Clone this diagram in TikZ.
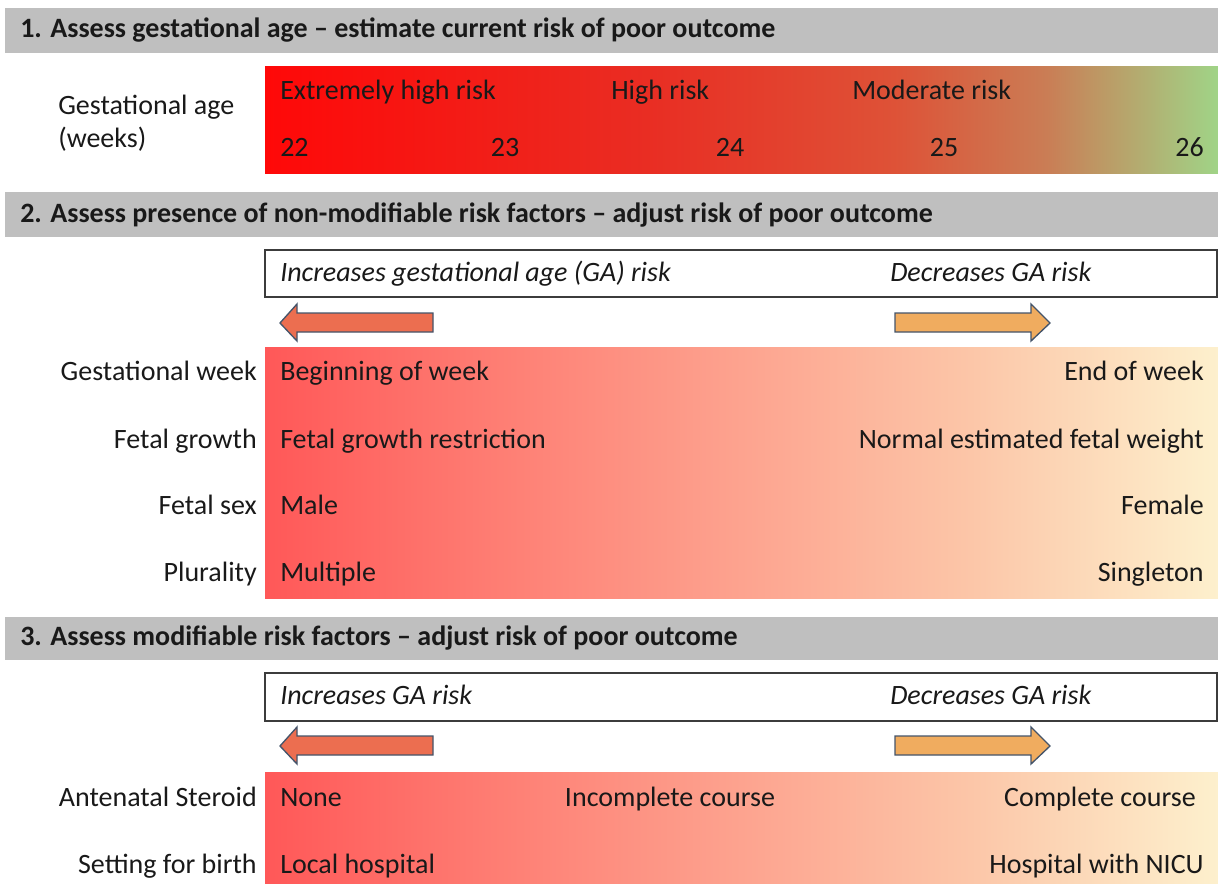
\documentclass[tikz,border=0pt]{standalone}
\usepackage{fontspec}
\setmainfont{Carlito}
\usetikzlibrary{positioning}

\definecolor{ink}{RGB}{25,25,25}
\definecolor{headgray}{RGB}{191,191,191}
\definecolor{boxline}{RGB}{60,60,60}
\definecolor{arrline}{RGB}{68,84,106}
\definecolor{arrred}{RGB}{236,110,80}
\definecolor{arrtan}{RGB}{240,172,95}
% colours of the age band
\definecolor{ageA}{RGB}{255,8,8}
\definecolor{ageB}{RGB}{233,45,35}
\definecolor{ageC}{RGB}{222,82,55}
\definecolor{ageD}{RGB}{202,125,85}
\definecolor{ageE}{RGB}{160,212,135}
% colours of the risk factor bands
\definecolor{facA}{RGB}{255,88,88}
\definecolor{facB}{RGB}{254,125,115}
\definecolor{facC}{RGB}{253,163,143}
\definecolor{facD}{RGB}{252,198,168}
\definecolor{facE}{RGB}{253,240,205}

\pgfdeclarehorizontalshading{agerisk}{100bp}{color(0bp)=(ageA); color(25bp)=(ageA);
  color(45bp)=(ageB); color(58bp)=(ageC); color(66bp)=(ageD); color(75bp)=(ageE); color(100bp)=(ageE)}
\pgfdeclarehorizontalshading{factorrisk}{100bp}{color(0bp)=(facA); color(25bp)=(facA);
  color(37bp)=(facB); color(50bp)=(facC); color(62bp)=(facD); color(75bp)=(facE); color(100bp)=(facE)}

\tikzset{
  every node/.style={font=\fontsize{21}{25}\selectfont, text=ink, inner sep=0pt,
    text height=2.6ex, text depth=.25ex},
  headband/.style={fill=headgray},
  headtext/.style={anchor=west, font=\fontsize{21}{25}\selectfont\bfseries},
  lft/.style={anchor=west},
  rgt/.style={anchor=east},
  hint/.style={anchor=west, font=\fontsize{21}{25}\selectfont\itshape},
  hintbox/.style={draw=boxline, line width=0.8pt, fill=white},
  fatleft/.style={fill=arrred, draw=arrline, line width=1pt, line join=miter},
  fatright/.style={fill=arrtan, draw=arrline, line width=1pt, line join=miter}
}

\begin{document}
\begin{tikzpicture}[x=0.75pt, y=-0.75pt]
  \useasboundingbox (0,0) rectangle (1218,883);

  % section 1
  \fill[headband] (5,8) rectangle (1218,53);
  \node[headtext] (head1) at (20,30) {1. Assess gestational age – estimate current risk of poor outcome};
  \shade[shading=agerisk] (265,66) rectangle (1218,173);
  \node[lft] (galabel) at (58,107) {Gestational age};
  \node[lft] (gaweeks) at (58,140) {(weeks)};
  \node[lft] (extreme) at (280,92) {Extremely high risk};
  \node[lft] (high) at (611,92) {High risk};
  \node[lft] (moderate) at (852,92) {Moderate risk};
  \node[lft] (w22) at (280,149) {22};
  \node (w23) at (505,149) {23};
  \node (w24) at (730,149) {24};
  \node (w25) at (944,149) {25};
  \node[rgt] (w26) at (1204,149) {26};

  % section 2
  \fill[headband] (5,192) rectangle (1218,237);
  \node[headtext] (head2) at (20,215) {2. Assess presence of non-modifiable risk factors – adjust risk of poor outcome};
  \draw[hintbox] (265,250) rectangle (1217,297);
  \node[hint] (inc2) at (280,274) {Increases gestational age (GA) risk};
  \node[hint] (dec2) at (890,274) {Decreases GA risk};
  \filldraw[fatleft] (280,323) -- (297,304) -- (297,313) -- (433,313) -- (433,332)
    -- (297,332) -- (297,341) -- cycle;
  \filldraw[fatright] (895,313) -- (1031,313) -- (1031,304) -- (1050,323) -- (1031,341)
    -- (1031,332) -- (895,332) -- cycle;
  \shade[shading=factorrisk] (265,347) rectangle (1218,598);
  \node[rgt] (week) at (257,373) {Gestational week};
  \node[lft] (weekbeg) at (280,373) {Beginning of week};
  \node[rgt] (weekend) at (1204,373) {End of week};
  \node[rgt] (growth) at (257,441) {Fetal growth};
  \node[lft] (growthlo) at (280,441) {Fetal growth restriction};
  \node[rgt] (growthhi) at (1204,441) {Normal estimated fetal weight};
  \node[rgt] (sex) at (257,507) {Fetal sex};
  \node[lft] (male) at (280,507) {Male};
  \node[rgt] (female) at (1204,507) {Female};
  \node[rgt] (plural) at (257,574) {Plurality};
  \node[lft] (multiple) at (280,574) {Multiple};
  \node[rgt] (single) at (1204,574) {Singleton};

  % section 3
  \fill[headband] (5,617) rectangle (1218,660);
  \node[headtext] (head3) at (20,638) {3. Assess modifiable risk factors – adjust risk of poor outcome};
  \draw[hintbox] (265,673) rectangle (1217,721);
  \node[hint] (inc3) at (280,697) {Increases GA risk};
  \node[hint] (dec3) at (890,697) {Decreases GA risk};
  \filldraw[fatleft] (280,746) -- (297,727) -- (297,736) -- (433,736) -- (433,755)
    -- (297,755) -- (297,764) -- cycle;
  \filldraw[fatright] (895,736) -- (1031,736) -- (1031,727) -- (1050,746) -- (1031,764)
    -- (1031,755) -- (895,755) -- cycle;
  \shade[shading=factorrisk] (265,772) rectangle (1218,883);
  \node[rgt] (steroid) at (257,799) {Antenatal Steroid};
  \node[lft] (none) at (280,799) {None};
  \node (partial) at (670,799) {Incomplete course};
  \node[rgt] (complete) at (1196,799) {Complete course};
  \node[rgt] (setting) at (257,866) {Setting for birth};
  \node[lft] (local) at (280,866) {Local hospital};
  \node[rgt] (nicu) at (1204,866) {Hospital with NICU};
\end{tikzpicture}
\end{document}
